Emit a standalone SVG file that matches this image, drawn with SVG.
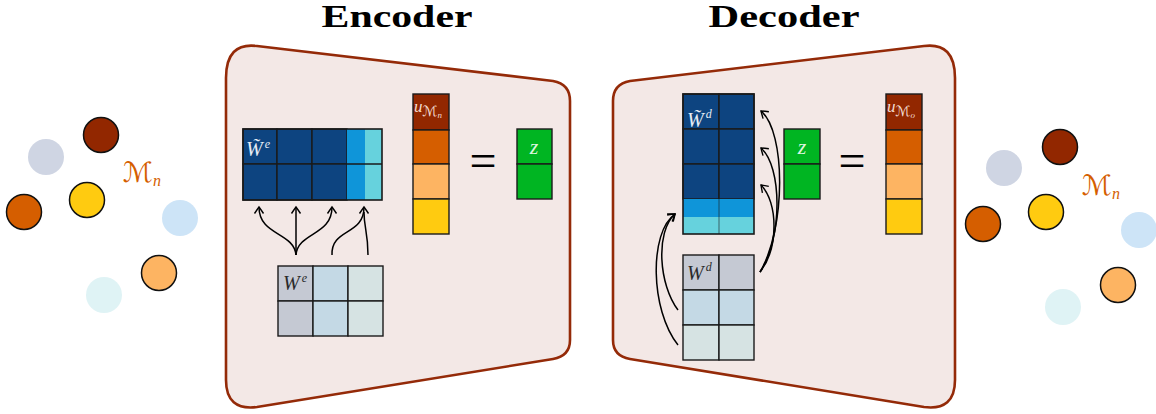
<svg xmlns="http://www.w3.org/2000/svg" width="1156" height="414" viewBox="0 0 1156 414">
<defs>
<style>
.title{font-family:"Liberation Serif","DejaVu Serif",serif;font-weight:bold;font-size:31px;fill:#000}
.box{fill:#f3e8e6;stroke:#942a08;stroke-width:2.6;stroke-linejoin:round}
.cell{stroke:#1a1a1a;stroke-width:1.4}
.dk{fill:#0d4480}.br{fill:#0f95d9}.cy{fill:#66d2dd}
.g1{fill:#c5c9d3}.g2{fill:#c4d9e5}.g3{fill:#d6e3e3}
.c1{fill:#922700}.c2{fill:#d55e00}.c3{fill:#fdb462}.c4{fill:#ffcb10}.gr{fill:#00b522}
.pt{stroke:#111;stroke-width:1.5}
.math{font-family:"Liberation Serif","DejaVu Serif",serif;font-style:italic}
.cal{font-family:"DejaVu Serif","DejaVu Sans",serif}
.wl{fill:#e6edf5}.dl{fill:#2a2a2a}
.eq{font-family:"Liberation Serif","DejaVu Serif",serif;font-size:48px;fill:#000}
.lab{fill:#d55e00}
.con{fill:none;stroke:#000;stroke-width:1.5}
</style>
<marker id="arr" viewBox="-8 -6 10 12" markerWidth="10" markerHeight="12" refX="0" refY="0" orient="auto" markerUnits="userSpaceOnUse">
<path d="M -6.5 -4.5 Q -2 -1.5 0 0 Q -2 1.5 -6.5 4.5" fill="none" stroke="#000" stroke-width="1.4"/>
</marker>
</defs>
<rect width="1156" height="414" fill="#fff"/>

<g id="title-encoder"><text class="title" x="397" y="27" text-anchor="middle" textLength="151" lengthAdjust="spacingAndGlyphs">Encoder</text></g>
<g id="title-decoder"><text class="title" x="784" y="27" text-anchor="middle" textLength="151" lengthAdjust="spacingAndGlyphs">Decoder</text></g>

<g id="encoder-box"><path class="box" d="M 257 46 L 553 81 Q 570 84 570 101 L 570 340 Q 570 356 553 359 L 257 407 Q 226 411 226 380 L 226 78 Q 226 42 257 46 Z"/></g>
<g id="decoder-box"><path class="box" d="M 924 46 Q 955 42 955 78 L 955 380 Q 955 411 924 407 L 630 359 Q 613 356 613 340 L 613 101 Q 613 84 630 81 Z"/></g>

<g id="left-points">
<circle cx="46" cy="157" r="18" fill="#cfd5e3"/>
<circle cx="180" cy="218" r="18" fill="#cde4f7"/>
<circle cx="104" cy="295" r="18" fill="#dff3f5"/>
<circle class="pt c1" cx="101" cy="135" r="17.5"/>
<circle class="pt c4" cx="87" cy="200" r="17.5"/>
<circle class="pt c2" cx="24" cy="212" r="17.5"/>
<circle class="pt c3" cx="159" cy="273" r="17.5"/>
<text class="lab" x="123" y="182"><tspan class="cal" font-size="28">ℳ</tspan><tspan class="math" font-size="16" dy="4">n</tspan></text>
</g>

<g id="right-points">
<circle cx="1004" cy="168" r="18" fill="#cfd5e3"/>
<circle cx="1139" cy="230" r="18" fill="#cde4f7"/>
<circle cx="1063" cy="307" r="18" fill="#dff3f5"/>
<circle class="pt c1" cx="1060" cy="147" r="17.5"/>
<circle class="pt c4" cx="1046" cy="212" r="17.5"/>
<circle class="pt c2" cx="983" cy="224" r="17.5"/>
<circle class="pt c3" cx="1118" cy="285" r="17.5"/>
<text class="lab" x="1082" y="195"><tspan class="cal" font-size="28">ℳ</tspan><tspan class="math" font-size="16" dy="4">n</tspan></text>
</g>

<g id="enc-Wtilde">
<rect class="cell dk" x="243" y="129" width="34" height="35"/>
<rect class="cell dk" x="277" y="129" width="35" height="35"/>
<rect class="cell dk" x="312" y="129" width="35" height="35"/>
<rect class="cell dk" x="243" y="164" width="34" height="36"/>
<rect class="cell dk" x="277" y="164" width="35" height="36"/>
<rect class="cell dk" x="312" y="164" width="35" height="36"/>
<rect class="br" x="347" y="129" width="18" height="71"/>
<rect class="cy" x="365" y="129" width="17" height="71"/>
<path d="M 347 164 H 382" stroke="#1a1a1a" stroke-width="1.4"/>
<rect x="243" y="129" width="139" height="71" fill="none" stroke="#1a1a1a" stroke-width="1.6"/>
<text class="math wl" x="246" y="156" font-size="20">W&#771;<tspan font-size="12" dx="2" dy="-8">e</tspan></text>
</g>

<g id="enc-W">
<rect class="cell g1" x="278" y="266" width="35" height="35"/>
<rect class="cell g2" x="313" y="266" width="35" height="35"/>
<rect class="cell g3" x="348" y="266" width="35" height="35"/>
<rect class="cell g1" x="278" y="301" width="35" height="35"/>
<rect class="cell g2" x="313" y="301" width="35" height="35"/>
<rect class="cell g3" x="348" y="301" width="35" height="35"/>
<text class="math dl" x="283" y="290" font-size="20">W<tspan font-size="12" dx="2" dy="-8">e</tspan></text>
</g>

<g id="enc-u">
<rect class="cell c1" x="413" y="94" width="36" height="36"/>
<rect class="cell c2" x="413" y="130" width="36" height="34"/>
<rect class="cell c3" x="413" y="164" width="36" height="35"/>
<rect class="cell c4" x="413" y="199" width="36" height="35"/>
<text x="414" y="112" fill="#f2dcd2"><tspan class="math" font-size="17">u</tspan><tspan class="cal" font-size="14" dy="4">ℳ</tspan><tspan class="math" font-size="9" dy="2">n</tspan></text>
</g>

<g id="enc-eq"><text class="eq" x="483" y="177" text-anchor="middle">=</text></g>

<g id="enc-z">
<rect class="cell gr" x="517" y="129" width="35" height="35"/>
<rect class="cell gr" x="517" y="164" width="35" height="35"/>
<text class="math" x="534" y="154" font-size="22" fill="#dcf5de" text-anchor="middle">z</text>
</g>

<g id="dec-Wtilde">
<rect class="cell dk" x="683" y="94" width="36" height="35"/>
<rect class="cell dk" x="719" y="94" width="35" height="35"/>
<rect class="cell dk" x="683" y="129" width="36" height="35"/>
<rect class="cell dk" x="719" y="129" width="35" height="35"/>
<rect class="cell dk" x="683" y="164" width="36" height="35"/>
<rect class="cell dk" x="719" y="164" width="35" height="35"/>
<rect class="br" x="683" y="199" width="71" height="18"/>
<rect class="cy" x="683" y="217" width="71" height="17"/>
<path d="M 719 199 V 234" stroke="#1a1a1a" stroke-width="1" opacity="0.6"/>
<rect x="683" y="94" width="71" height="140" fill="none" stroke="#1a1a1a" stroke-width="1.6"/>
<text class="math wl" x="687" y="127" font-size="20">W&#771;<tspan font-size="12" dx="2" dy="-9">d</tspan></text>
</g>

<g id="dec-W">
<rect class="cell g1" x="683" y="255" width="36" height="35"/>
<rect class="cell g1" x="719" y="255" width="35" height="35"/>
<rect class="cell g2" x="683" y="290" width="36" height="35"/>
<rect class="cell g2" x="719" y="290" width="35" height="35"/>
<rect class="cell g3" x="683" y="325" width="36" height="35"/>
<rect class="cell g3" x="719" y="325" width="35" height="35"/>
<text class="math dl" x="687" y="280" font-size="20">W<tspan font-size="12" dx="2" dy="-9">d</tspan></text>
</g>

<g id="dec-z">
<rect class="cell gr" x="784" y="129" width="36" height="35"/>
<rect class="cell gr" x="784" y="164" width="36" height="35"/>
<text class="math" x="802" y="154" font-size="22" fill="#dcf5de" text-anchor="middle">z</text>
</g>

<g id="dec-eq"><text class="eq" x="852" y="177" text-anchor="middle">=</text></g>

<g id="dec-u">
<rect class="cell c1" x="886" y="94" width="36" height="36"/>
<rect class="cell c2" x="886" y="130" width="36" height="34"/>
<rect class="cell c3" x="886" y="164" width="36" height="35"/>
<rect class="cell c4" x="886" y="199" width="36" height="35"/>
<text x="887" y="112" fill="#f2dcd2"><tspan class="math" font-size="17">u</tspan><tspan class="cal" font-size="14" dy="4">ℳ</tspan><tspan class="math" font-size="9" dy="2">o</tspan></text>
</g>

<g id="connectors">
<path class="con" marker-end="url(#arr)" d="M 296 255 C 294 232 259 236 259 207"/>
<path class="con" marker-end="url(#arr)" d="M 296 255 L 296 207"/>
<path class="con" marker-end="url(#arr)" d="M 296 255 C 298 232 332 236 332 207"/>
<path class="con" marker-end="url(#arr)" d="M 332 255 C 331 228 364 236 364 207"/>
<path class="con" d="M 368 255 C 368 232 364 228 364 212"/>
<path class="con" marker-end="url(#arr)" d="M 760 272 C 786 228 786 132 761 111"/>
<path class="con" marker-end="url(#arr)" d="M 760 272 C 783 238 782 166 761 148"/>
<path class="con" marker-end="url(#arr)" d="M 760 272 C 779 248 778 202 761 185"/>
<path class="con" marker-end="url(#arr)" d="M 678 310 C 659 285 655 232 675 214"/>
<path class="con" marker-end="url(#arr)" d="M 678 345 C 650 310 649 232 675 214"/>
</g>
</svg>
